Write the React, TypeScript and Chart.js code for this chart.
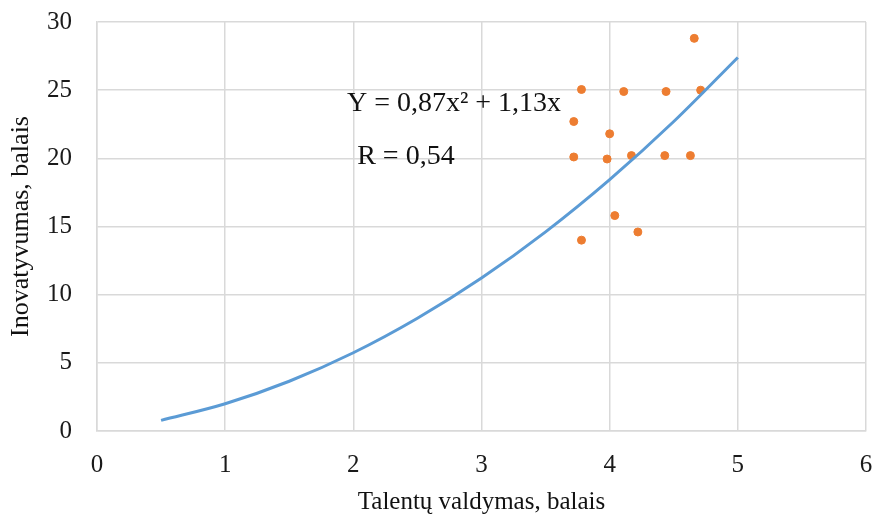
import React, { useEffect, useRef } from "react";
import { Chart, registerables } from "chart.js";

Chart.register(...registerables);

const scatterX = [3.78, 4.11, 4.44, 4.66, 4.71, 3.72, 4.0, 3.72, 3.98, 4.17, 4.43, 4.63, 4.04, 4.22, 3.78];
const scatterY = [25.05, 24.9, 24.9, 28.8, 25.0, 22.7, 21.8, 20.1, 19.95, 20.2, 20.2, 20.2, 15.8, 14.6, 14.0];

const trendX = [0.5, 1.0, 1.5, 2.0, 2.5, 3.0, 3.5, 4.0, 4.5, 5.0];
const trendY = [0.78, 2.0, 3.65, 5.74, 8.27, 11.22, 14.61, 18.44, 22.70, 27.4];

const xTitle = "Talentų valdymas, balais";
const yTitle = "Inovatyvumas, balais";
const equationText = "Y = 0,87x² + 1,13x";
const rText = "R = 0,54";

const FONT = "'Liberation Serif', 'Times New Roman', serif";

export default function App() {
  const ref = useRef<HTMLCanvasElement | null>(null);

  useEffect(() => {
    document.body.style.margin = "0";
    const canvas = ref.current;
    if (!canvas) return;

    const annot = {
      id: "annot",
      afterDatasetsDraw(chart: any) {
        const ctx = chart.ctx;
        const xs = chart.scales.x;
        const ys = chart.scales.y;
        ctx.save();
        ctx.fillStyle = "#111";
        ctx.font = `28px ${FONT}`;
        ctx.textAlign = "left";
        ctx.textBaseline = "middle";
        ctx.fillText(equationText, xs.getPixelForValue(1.95), ys.getPixelForValue(24.0));
        ctx.fillText(rText, xs.getPixelForValue(2.03), ys.getPixelForValue(20.1));
        ctx.restore();
      },
    };

    const chart = new Chart(canvas, {
      type: "scatter",
      data: {
        datasets: [
          {
            type: "line",
            data: trendX.map((x, i) => ({ x, y: trendY[i] })),
            borderColor: "#5b9bd5",
            borderWidth: 3,
            pointRadius: 0,
            cubicInterpolationMode: "monotone",
            fill: false,
          } as any,
          {
            type: "scatter",
            data: scatterX.map((x, i) => ({ x, y: scatterY[i] })),
            backgroundColor: "#ed7d31",
            borderColor: "#ed7d31",
            pointRadius: 4,
            pointStyle: "circle",
          },
        ],
      },
      plugins: [annot],
      options: {
        animation: false,
        responsive: false,
        maintainAspectRatio: false,
        layout: { padding: { top: 22, right: 6, left: 0, bottom: 0 } },
        plugins: { legend: { display: false }, tooltip: { enabled: false } },
        scales: {
          x: {
            type: "linear",
            min: 0,
            max: 6,
            ticks: {
              stepSize: 1,
              color: "#1a1a1a",
              font: { family: FONT, size: 25 },
              padding: 19,
            },
            grid: { color: "#d9d9d9", lineWidth: 1.5, drawTicks: false },
            border: { color: "#d9d9d9", width: 1.5 },
            title: {
              display: true,
              text: xTitle,
              color: "#111",
              font: { family: FONT, size: 25 },
              padding: 0,
            },
            afterFit(scale: any) {
              scale.height = 86;
              scale.paddingLeft = 0;
              scale.paddingRight = 0;
            },
          },
          y: {
            type: "linear",
            min: 0,
            max: 30,
            ticks: {
              stepSize: 5,
              color: "#1a1a1a",
              font: { family: FONT, size: 25 },
              padding: 25,
            },
            grid: { color: "#d9d9d9", lineWidth: 1.5, drawTicks: false },
            border: { color: "#d9d9d9", width: 1.5 },
            title: {
              display: true,
              text: yTitle,
              color: "#111",
              font: { family: FONT, size: 26 },
              padding: { top: 6, bottom: 0 },
            },
            afterFit(scale: any) {
              scale.width = 97;
              scale.paddingTop = 0;
              scale.paddingBottom = 0;
            },
          },
        },
      },
    } as any);

    return () => chart.destroy();
  }, []);

  return (
    <div style={{ width: 872, height: 517, background: "#fff" }}>
      <canvas ref={ref} width={872} height={517} style={{ display: "block" }} />
    </div>
  );
}
